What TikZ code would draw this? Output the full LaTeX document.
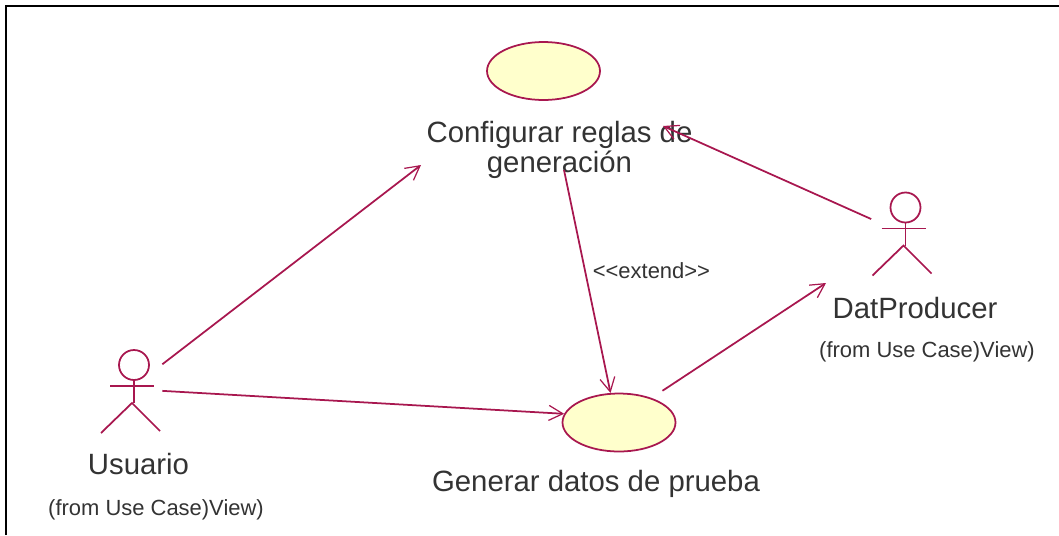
\documentclass[tikz,border=0pt]{standalone}
\usepackage{xcolor}
\usepackage{fontspec}
\setmainfont{Liberation Sans}
\usepackage{tikz}
\usetikzlibrary{positioning}
\usetikzlibrary{shapes.geometric, arrows.meta}
\definecolor{umlline}{HTML}{A8174F}
\definecolor{umlfill}{HTML}{FFFFCC}
\definecolor{umltext}{HTML}{333333}
\tikzstyle{usecase} = [ellipse, minimum width=2.26cm, minimum height=1.16cm, inner sep=0pt, draw=umlline, fill=umlfill, line width=1pt]
\tikzstyle{actor} = [rectangle, minimum width=1.24cm, minimum height=1.8cm, inner sep=0pt]
\tikzstyle{bigtext} = [inner sep=0pt, align=center, text=umltext, font=\fontsize{16.7}{17.4}\selectfont]
\tikzstyle{smalltext} = [inner sep=0pt, text=umltext, font=\fontsize{12.5}{14}\selectfont]
\tikzstyle{arrow} = [umlline, line width=1pt, -{Straight Barb[length=0.28cm, width=0.3cm, line width=0.7pt]}]
\tikzstyle{stickline} = [umlline, line width=1pt]
\tikzstyle{frameline} = [black, line width=0.04cm]
% stick figure, drawn around an actor node
\newcommand{\stickman}[1]{
    \draw[stickline, shift={(#1)}] (3,-27.5) circle[radius=15];
    \draw[stickline, shift={(#1)}] (3,-12.5) -- (3,10.5);
    \draw[stickline, shift={(#1)}] (-21,-6.5) -- (23,-6.5);
    \draw[stickline, shift={(#1)}] (-30,40.5) -- (1,10.5) -- (29,38.5);
}

\begin{document}
\begin{tikzpicture}[on grid, x=0.02cm, y=-0.02cm]
    \useasboundingbox (0,0) rectangle (1059,535);
    \coordinate (frameBottom) at (6,535);
    \coordinate (frameCorner) at (6,6);
    \coordinate (frameRight) at (1059,6);
    \draw[frameline] (frameBottom) -- (frameCorner) -- (frameRight);

    \node(conf)[usecase] at (543.5,71) {};
    \node(confName)[bigtext, below=1.58cm of conf, xshift=0.32cm] {Configurar reglas de\\generación};
    \node(gen)[usecase] at (619,422.5) {};
    \node(genName)[bigtext, below=1.22cm of gen, xshift=-0.46cm] {Generar datos de prueba};

    \node(usuario)[actor] at (131,392.5) {};
    \stickman{usuario}
    \node(usuarioName)[bigtext, below=1.43cm of usuario, xshift=0.15cm] {Usuario};
    \node(usuarioFrom)[smalltext, below=0.92cm of usuarioName, xshift=0.35cm] {(from Use Case)View)};

    \node(dat)[actor] at (902.5,235) {};
    \stickman{dat}
    \node(datName)[bigtext, below=1.46cm of dat, xshift=0.25cm] {DatProducer};
    \node(datFrom)[smalltext, below=0.88cm of datName, xshift=0.24cm] {(from Use Case)View)};

    \coordinate (confIn) at (421,165);
    \coordinate (confCorner) at (663,126);
    \coordinate (confOut) at (564,170);
    \coordinate (datIn) at (826,283);

    \draw[arrow](usuario.42.6)--(confIn);
    \draw[arrow](usuario.3)--(gen.171.7);
    \draw[arrow](dat.153)--(confCorner);
    \draw[arrow](confOut)--node(extendName)[pos=0.45, anchor=west, xshift=0.14cm, smalltext] {<{}<extend>{}>} (gen.106);
    \draw[arrow, shorten <=0.26cm](gen.37)--(datIn);
\end{tikzpicture}
\end{document}
